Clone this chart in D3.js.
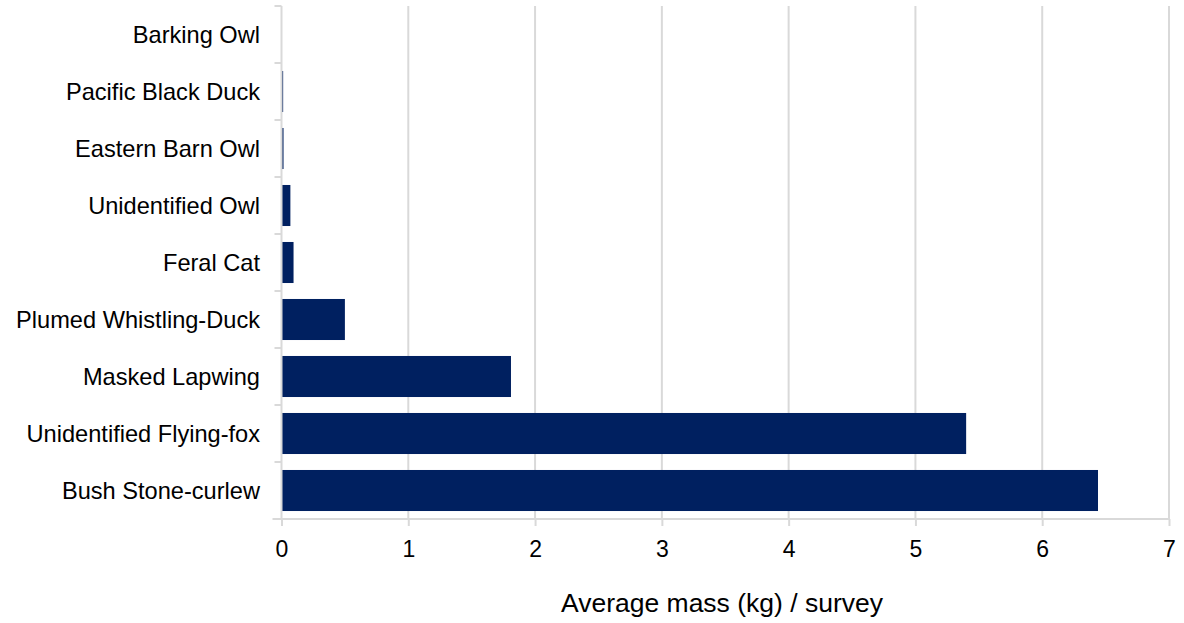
<!DOCTYPE html>
<html>
<head>
<meta charset="utf-8">
<script src="https://cdn.jsdelivr.net/npm/d3@7"></script>
<style>
  html, body { margin: 0; padding: 0; background: #fff; }
  svg { display: block; font-family: "Liberation Sans", Arial, sans-serif; }
</style>
</head>
<body>
<svg id="chart" width="1184" height="623"></svg>
<script>
// Species, listed top to bottom
const species = [
  "Barking Owl",
  "Pacific Black Duck",
  "Eastern Barn Owl",
  "Unidentified Owl",
  "Feral Cat",
  "Plumed Whistling-Duck",
  "Masked Lapwing",
  "Unidentified Flying-fox",
  "Bush Stone-curlew"
];
// Average mass (kg) per survey
const massKg = [0.0, 0.013, 0.016, 0.07, 0.095, 0.50, 1.81, 5.40, 6.44];
const xTicks = [0, 1, 2, 3, 4, 5, 6, 7];
const xTitle = "Average mass (kg) / survey";

const svg = d3.select("#chart");
const m = { left: 281.5, right: 1169, top: 6, bottom: 519 };

const x = d3.scaleLinear().domain([0, 7]).range([m.left, m.right]);
const y = d3.scaleBand().domain(species).range([m.top, m.bottom]).paddingInner(0.28).paddingOuter(0.14);
const band = d3.scaleBand().domain(species).range([m.top, m.bottom]);

const grid = "#d9d9d9";

// vertical gridlines
svg.append("g").selectAll("line").data(xTicks.slice(1)).join("line")
  .attr("x1", d => x(d)).attr("x2", d => x(d))
  .attr("y1", m.top).attr("y2", m.bottom)
  .attr("stroke", grid).attr("stroke-width", 2);

// bars
svg.append("g").selectAll("rect").data(species).join("rect")
  .attr("x", x(0))
  .attr("y", d => y(d))
  .attr("width", (d, i) => x(massKg[i]) - x(0))
  .attr("height", y.bandwidth())
  .attr("fill", "#002060");

// x axis
const xAxis = d3.axisBottom(x).tickValues(xTicks).tickSize(7).tickPadding(0).tickFormat(d3.format("d"));
const gx = svg.append("g").attr("transform", `translate(0,${m.bottom})`).call(xAxis)
  .attr("font-size", 23).attr("font-family", "'Liberation Sans', Arial, sans-serif");
gx.select(".domain").attr("d", `M${m.left - 9},0H${m.right}`).attr("stroke", grid).attr("stroke-width", 2);
gx.selectAll(".tick line").attr("stroke", grid).attr("stroke-width", 2);
gx.selectAll(".tick text").attr("fill", "#000").attr("y", 38).attr("dy", null)
  .style("font-size", "23px");

// y axis: category labels with boundary ticks
const gy = svg.append("g").attr("transform", `translate(${m.left},0)`);
gy.append("line").attr("x1", 0).attr("x2", 0).attr("y1", m.top).attr("y2", m.bottom)
  .attr("stroke", grid).attr("stroke-width", 2);
const bounds = species.map(d => band(d));
gy.selectAll("line.b").data(bounds).join("line").attr("class", "b")
  .attr("x1", -7).attr("x2", 0).attr("y1", d => d).attr("y2", d => d)
  .attr("stroke", grid).attr("stroke-width", 2);
gy.selectAll("text").data(species).join("text")
  .attr("x", -21.5)
  .attr("y", d => band(d) + band.bandwidth() / 2 + 8.4)
  .attr("text-anchor", "end")
  .style("font-size", "23.6px")
  .attr("fill", "#000")
  .text(d => d);

// axis title
svg.append("text")
  .attr("x", 722)
  .attr("y", 612)
  .attr("text-anchor", "middle")
  .style("font-size", "26.5px")
  .attr("fill", "#000")
  .text(xTitle);
</script>
</body>
</html>
